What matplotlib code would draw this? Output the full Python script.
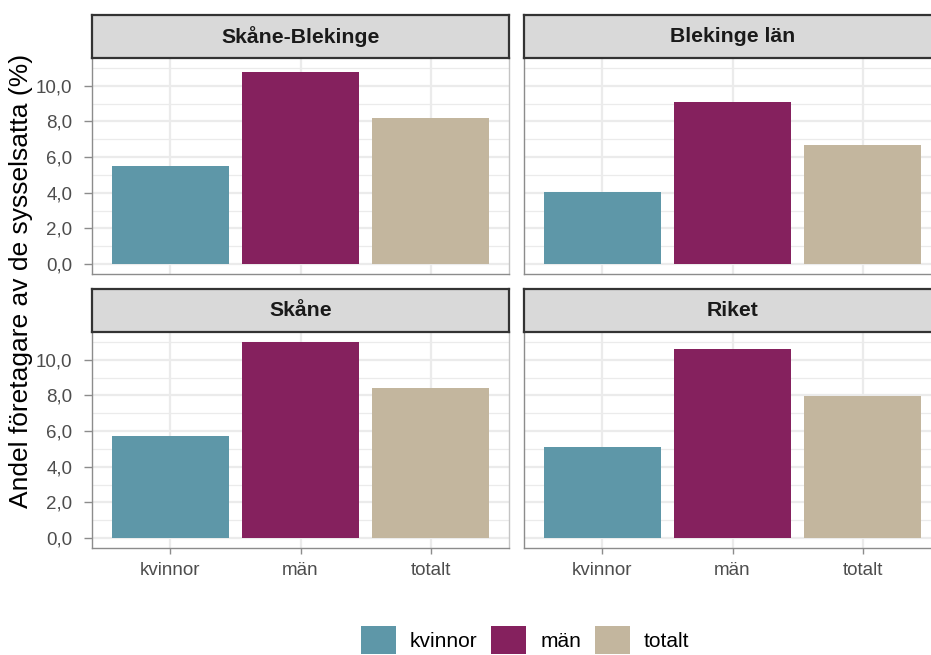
import matplotlib
matplotlib.use("Agg")
import matplotlib.pyplot as plt
from matplotlib.patches import Patch
from matplotlib.ticker import FixedLocator, FuncFormatter

plt.rcParams['font.family'] = ['Liberation Sans', 'DejaVu Sans']

regions = ["Skåne-Blekinge", "Blekinge län", "Skåne", "Riket"]
categories = ["kvinnor", "män", "totalt"]
values = {
    "Skåne-Blekinge": [5.5, 10.75, 8.2],
    "Blekinge län": [4.05, 9.1, 6.7],
    "Skåne": [5.7, 11.0, 8.42],
    "Riket": [5.12, 10.6, 7.98],
}
colors = ["#5e97a8", "#85215e", "#c3b69e"]
y_major = [0, 2, 4, 6, 8, 10]
y_minor = [1, 3, 5, 7, 9, 11]
ylabel = "Andel företagare av de sysselsatta (%)"

W, H = 931, 655
fig = plt.figure(figsize=(W / 100, H / 100), dpi=100)


def rect(x0, y0, x1, y1):
    return [x0 / W, 1 - y1 / H, (x1 - x0) / W, (y1 - y0) / H]


panel_x = [(92, 509), (524, 941)]
panel_y = [((15, 58), (58, 274)), ((289, 332), (332, 548))]

ymax = max(max(v) for v in values.values())
pad = ymax * 0.05

for i, reg in enumerate(regions):
    r, c = divmod(i, 2)
    x0, x1 = panel_x[c]
    (s0, s1), (p0, p1) = panel_y[r]
    ax = fig.add_axes(rect(x0, p0, x1, p1))
    xs = list(range(len(categories)))
    ax.bar(xs, values[reg], width=0.9, color=colors, zorder=3)
    ax.set_xlim(-0.6, len(categories) - 0.4)
    ax.set_ylim(-pad, ymax + pad)
    ax.yaxis.set_major_locator(FixedLocator(y_major))
    ax.yaxis.set_minor_locator(FixedLocator(y_minor))
    ax.yaxis.set_major_formatter(FuncFormatter(lambda v, p: f"{v:.1f}".replace(".", ",")))
    ax.set_xticks(xs)
    ax.grid(which='major', color='#ebebeb', linewidth=1.6, zorder=0)
    ax.grid(which='minor', axis='y', color='#ebebeb', linewidth=0.9, zorder=0)
    ax.set_axisbelow(True)
    ax.tick_params(which='minor', length=0)
    ax.tick_params(axis='both', which='major', colors='#8c8c8c', labelcolor='#4d4d4d',
                   labelsize=13.5, length=5.5, width=1.0, pad=8.5)
    for s in ['left', 'bottom']:
        ax.spines[s].set_color('#8c8c8c')
        ax.spines[s].set_linewidth(1.0)
    ax.spines['right'].set_color('#c4c4c4')
    ax.spines['right'].set_linewidth(1.0)
    ax.spines['top'].set_visible(False)
    if c == 1:
        ax.tick_params(axis='y', left=False, labelleft=False)
    if r == 0:
        ax.tick_params(axis='x', bottom=False, labelbottom=False)
    else:
        ax.set_xticklabels(categories)
        ax.tick_params(axis='x', length=4.5, pad=5.5)

    sax = fig.add_axes(rect(x0, s0, x1, s1))
    sax.set_facecolor('#d9d9d9')
    sax.set_xticks([])
    sax.set_yticks([])
    for s in sax.spines.values():
        s.set_color('#333333')
        s.set_linewidth(1.6)
    sax.text(0.5, 0.5, reg, ha='center', va='center', fontsize=15.3, fontweight='bold',
             color='#1a1a1a', transform=sax.transAxes)

fig.text(21 / W, 1 - 281 / H, ylabel, rotation=90, ha='center', va='center',
         fontsize=19, color='#000000')

handles = [Patch(facecolor=col, edgecolor='none', label=cat) for col, cat in zip(colors, categories)]
fig.legend(handles=handles, loc='center', bbox_to_anchor=(525 / W, 1 - 640 / H), ncol=3,
           frameon=False, fontsize=15, handlelength=1.68, handleheight=1.68,
           handletextpad=0.67, columnspacing=0.67, borderaxespad=0, borderpad=0)

fig.savefig("out.png", dpi=100)
